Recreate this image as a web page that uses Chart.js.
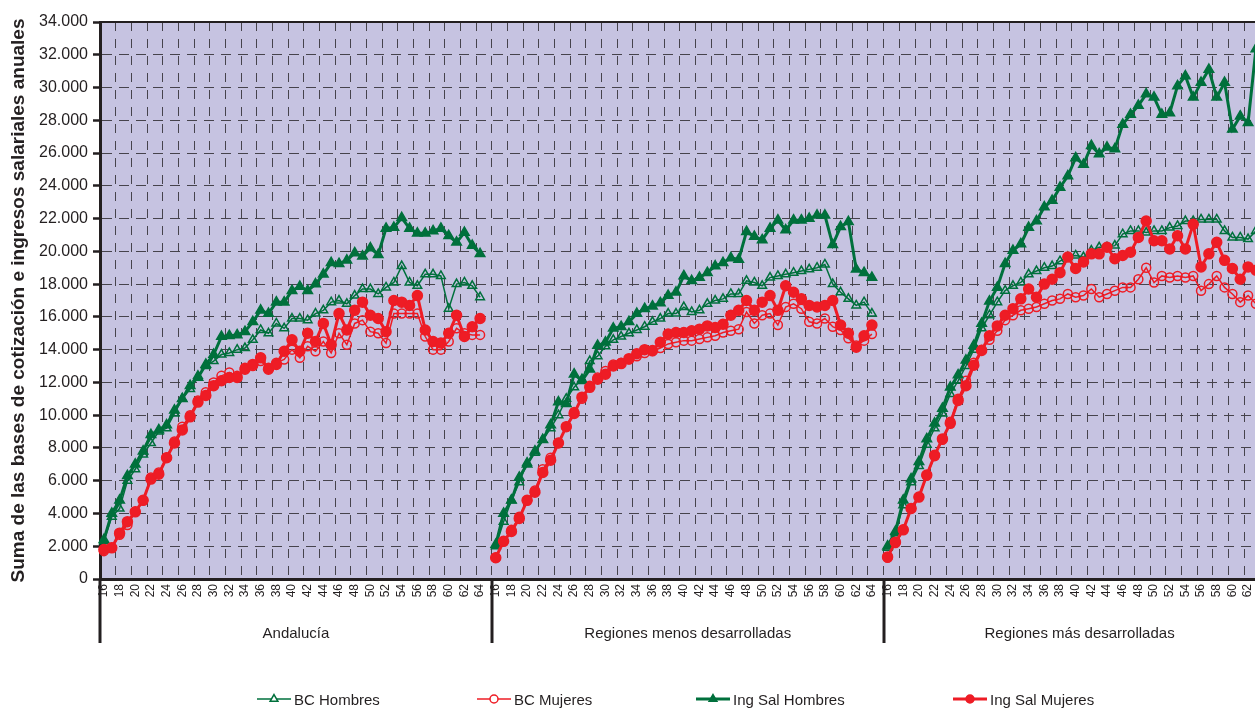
<!DOCTYPE html>
<html lang="es">
<head>
<meta charset="utf-8">
<title>Bases de cotización e ingresos salariales por edad</title>
<script src="https://cdn.jsdelivr.net/npm/chart.js@4.4.1/dist/chart.umd.min.js"></script>
<style>
  html, body { margin: 0; padding: 0; background: #fff; overflow: hidden; }
  #wrap { position: relative; width: 1255px; height: 711px; overflow: hidden; }
  #chart { position: absolute; left: 0; top: 0; }
  #legend { position: absolute; left: 0; top: 689px; width: 1255px; height: 24px; }
  .item { position: absolute; top: 0; display: flex; align-items: center; white-space: nowrap;
          font-family: "Liberation Sans", Arial, sans-serif;
          font-size: 15px; color: #231f20; }
  .item canvas { margin-right: 3px; }
</style>
</head>
<body>
<div id="wrap">
  <canvas id="chart" width="1291" height="711"></canvas>
  <div id="legend"></div>
</div>
<script>
// Ages on the axis (65 is the empty slot that separates the groups)
const AGES = ['16','17','18','19','20','21','22','23','24','25','26','27','28','29','30',
              '31','32','33','34','35','36','37','38','39','40','41','42','43','44','45',
              '46','47','48','49','50','51','52','53','54','55','56','57','58','59','60',
              '61','62','63','64','65'];
const GROUPS = ['Andalucía', 'Regiones menos desarrolladas', 'Regiones más desarrolladas'];
const Y_MAX = 34000;
const Y_STEP = 2000;

// values for ages 16..64, one array per group and series
const BCH_AND = [2300, 3800, 4300, 6000, 6700, 7600, 8300, 9000, 9200, 10100, 11000, 11600, 12400, 13000, 13300,
  13700, 13800, 14000, 14100, 14600, 15200, 15000, 15600, 15300, 15900, 15900, 15800, 16200, 16400, 16900,
  17000, 16800, 17300, 17700, 17700, 17400, 17800, 18100, 19100, 18100, 17900, 18600, 18600, 18500, 16500,
  18000, 18100, 17900, 17200];
const BCM_AND = [1700, 1900, 2700, 3300, 4100, 4800, 6200, 6500, 7400, 8400, 9300, 10000, 10900, 11400, 12000,
  12400, 12600, 12400, 12900, 13000, 13300, 12900, 13200, 13400, 14000, 13500, 14200, 13900, 14500, 13800,
  15000, 14300, 15600, 15800, 15100, 15000, 14400, 16200, 16200, 16200, 16200, 14800, 14000, 14000, 14500,
  15300, 15000, 14900, 14900];
const ISH_AND = [2400, 4000, 4800, 6300, 7000, 7800, 8800, 9100, 9400, 10300, 11000, 11800, 12300, 13100, 13700,
  14800, 14850, 14900, 15100, 15700, 16400, 16200, 16900, 16900, 17600, 17850, 17600, 18000, 18600, 19300,
  19250, 19450, 19900, 19700, 20200, 19800, 21400, 21450, 22050, 21400, 21100, 21100, 21250, 21400, 20950,
  20550, 21150, 20350, 19850];
const ISM_AND = [1800, 1900, 2800, 3500, 4100, 4800, 6100, 6400, 7400, 8300, 9100, 9900, 10800, 11200, 11800,
  12100, 12300, 12300, 12800, 13100, 13500, 12800, 13100, 13900, 14600, 13900, 15000, 14500, 15600, 14300,
  16200, 15200, 16400, 16900, 16100, 15900, 15100, 17000, 16900, 16700, 17300, 15200, 14500, 14400, 15000,
  16100, 14800, 15400, 15900];

const BCH_MEN = [2000, 3500, 4800, 5900, 7100, 7700, 8500, 9200, 10000, 11000, 11700, 12200, 13300, 13600, 14200,
  14600, 14800, 15000, 15200, 15400, 15700, 15900, 16200, 16200, 16600, 16300, 16400, 16800, 17000, 17100,
  17400, 17400, 18200, 18100, 17900, 18400, 18500, 18600, 18700, 18800, 18900, 19000, 19200, 18000, 17500,
  17100, 16700, 16900, 16200];
const BCM_MEN = [1300, 2300, 3000, 3800, 4800, 5400, 6700, 7400, 8300, 9300, 10200, 11000, 11800, 12300, 12700,
  13100, 13200, 13400, 13600, 13800, 13900, 14100, 14350, 14450, 14550, 14550, 14650, 14750, 14850, 15050,
  15150, 15250, 16300, 15600, 16100, 16200, 15500, 16600, 16800, 16500, 15700, 15600, 15900, 15400, 15200,
  14700, 14250, 14550, 14950];
const ISH_MEN = [2100, 4000, 4800, 6200, 7000, 7800, 8500, 9400, 10800, 10700, 12500, 12100, 12800, 14250, 14450,
  15300, 15400, 15700, 16200, 16500, 16650, 16850, 17300, 17500, 18500, 18200, 18400, 18700, 19100, 19300,
  19600, 19500, 21200, 20900, 20700, 21400, 21900, 21300, 21900, 21900, 22000, 22200, 22200, 20400, 21500,
  21800, 18900, 18700, 18400];
const ISM_MEN = [1300, 2300, 2900, 3700, 4800, 5300, 6500, 7250, 8300, 9300, 10100, 11100, 11700, 12200, 12500,
  13000, 13150, 13450, 13750, 14000, 13950, 14450, 14950, 15050, 15050, 15150, 15250, 15450, 15350, 15550,
  16100, 16400, 17000, 16400, 16900, 17300, 16400, 17900, 17500, 17100, 16700, 16600, 16700, 17000, 15500,
  15000, 14150, 14850, 15500];

const BCH_MAS = [1900, 2800, 4500, 5900, 6900, 8200, 9200, 10100, 11300, 12100, 13000, 14000, 15300, 16100, 16900,
  17600, 17900, 18100, 18600, 18800, 19000, 19100, 19400, 19650, 19750, 19650, 20050, 20250, 20250, 20350,
  21050, 21250, 21250, 21150, 21250, 21250, 21450, 21550, 21850, 21850, 21950, 21950, 21950, 21250, 20850,
  20850, 20750, 21250, 21300];
const BCM_MAS = [1300, 2200, 3000, 4300, 5000, 6300, 7500, 8500, 9600, 11000, 12100, 13200, 14000, 14600, 15150,
  15800, 16100, 16400, 16500, 16600, 16800, 17000, 17100, 17400, 17200, 17300, 17700, 17200, 17400, 17600,
  17800, 17800, 18300, 19000, 18100, 18500, 18400, 18500, 18400, 18500, 17600, 18000, 18500, 17800, 17400,
  16900, 17300, 16800, 16900];
const ISH_MAS = [2000, 2900, 4800, 6100, 7150, 8550, 9500, 10400, 11700, 12450, 13350, 14250, 15600, 16950, 17800,
  19250, 20050, 20450, 21450, 21850, 22700, 23100, 23900, 24600, 25700, 25300, 26450, 25950, 26350, 26250,
  27750, 28350, 28900, 29600, 29400, 28350, 28450, 30100, 30700, 29400, 30300, 31100, 29400, 30300, 27450,
  28250, 27850, 32350, 31500];
const ISM_MAS = [1350, 2250, 3000, 4300, 5000, 6350, 7550, 8550, 9500, 10900, 11800, 13050, 13950, 14850, 15450,
  16100, 16500, 17100, 17700, 17200, 18000, 18300, 18700, 19650, 18950, 19350, 19850, 19850, 20250, 19550,
  19750, 19950, 20850, 21850, 20650, 20650, 20150, 20950, 20150, 21650, 19050, 19850, 20550, 19450, 18950,
  18300, 19050, 18850, 19000];

const FONT = '"Liberation Sans", Arial, sans-serif';
const GREEN = '#00703c';
const RED = '#ee1c25';
const INK = '#231f20';
const PLOT_BG = '#c6c3e1';
const GRID = '#46434c';

// one slot per age and group, with a gap (null) at age 65
const labels = [];
GROUPS.forEach(() => AGES.forEach(a => labels.push(a)));
function joinGroups(a, b, c) {
  return [...a, null, ...b, null, ...c, null];
}
function fmt(v) {
  return String(v).replace(/\B(?=(\d{3})+(?!\d))/g, '.');
}

const series = [
  { label: 'BC Hombres', data: joinGroups(BCH_AND, BCH_MEN, BCH_MAS), color: GREEN, style: 'triangle', filled: false, order: 4 },
  { label: 'BC Mujeres', data: joinGroups(BCM_AND, BCM_MEN, BCM_MAS), color: RED, style: 'circle', filled: false, order: 3 },
  { label: 'Ing Sal Hombres', data: joinGroups(ISH_AND, ISH_MEN, ISH_MAS), color: GREEN, style: 'triangle', filled: true, order: 2 },
  { label: 'Ing Sal Mujeres', data: joinGroups(ISM_AND, ISM_MEN, ISM_MAS), color: RED, style: 'circle', filled: true, order: 1 }
];

const datasets = series.map(s => ({
  label: s.label,
  data: s.data,
  order: s.order,
  borderColor: s.color,
  borderWidth: s.filled ? 3 : 1.5,
  pointStyle: s.style,
  pointRadius: s.filled ? (s.style === 'circle' ? 5 : 5.5) : (s.style === 'circle' ? 4.5 : 5),
  pointBorderWidth: 1.5,
  pointBorderColor: s.color,
  pointBackgroundColor: s.filled ? s.color : 'rgba(0,0,0,0)',
  tension: 0,
  spanGaps: false
}));

// lavender plot area, top frame line and the group separators under the axis
const plotFrame = {
  id: 'plotFrame',
  beforeDraw(chart) {
    const a = chart.chartArea;
    const ctx = chart.ctx;
    ctx.save();
    ctx.fillStyle = PLOT_BG;
    ctx.fillRect(a.left, a.top, a.right - a.left, a.bottom - a.top);
    ctx.restore();
  },
  afterDraw(chart) {
    const a = chart.chartArea;
    const ctx = chart.ctx;
    const xs = chart.scales.x;
    const x2 = chart.scales.x2;
    const slot = xs.width / labels.length;
    ctx.save();
    ctx.strokeStyle = INK;
    ctx.lineWidth = 2;
    ctx.beginPath();
    ctx.moveTo(a.left, a.top);
    ctx.lineTo(a.right, a.top);
    ctx.stroke();
    ctx.lineWidth = 3;
    for (let g = 0; g <= GROUPS.length; g++) {
      const x = Math.round(xs.left + g * AGES.length * slot);
      ctx.beginPath();
      ctx.moveTo(x, a.bottom);
      ctx.lineTo(x, x2.top + 24);
      ctx.stroke();
    }
    ctx.restore();
  }
};

new Chart(document.getElementById('chart'), {
  type: 'line',
  data: { labels: labels, datasets: datasets },
  plugins: [plotFrame],
  options: {
    responsive: false,
    animation: false,
    layout: { padding: { top: 22, right: 0, bottom: 62, left: 0 } },
    plugins: {
      legend: { display: false },
      tooltip: { enabled: false }
    },
    scales: {
      x: {
        type: 'category',
        weight: 1,
        offset: true,
        grid: {
          offset: true,
          drawTicks: false,
          lineWidth: 1,
          color: ctx => (ctx.index > 0 && ctx.index % 2 === 0) ? GRID : 'rgba(0,0,0,0)'
        },
        border: { display: true, color: INK, width: 3, dash: [9, 8] },
        ticks: {
          autoSkip: false,
          maxRotation: 90,
          minRotation: 90,
          padding: 5,
          color: INK,
          font: { family: FONT, size: 12 },
          callback: function (v) {
            const a = Number(this.getLabelForValue(v));
            return (a % 2 === 0 && a <= 64) ? String(a) : '';
          }
        },
        afterFit: s => { s.height = 40; }
      },
      x2: {
        type: 'category',
        labels: GROUPS,
        position: 'bottom',
        weight: 2,
        offset: true,
        grid: { display: false, drawTicks: false },
        border: { display: false },
        ticks: {
          autoSkip: false,
          maxRotation: 0,
          padding: 6,
          color: INK,
          font: { family: FONT, size: 15 }
        },
        afterFit: s => { s.height = 30; }
      },
      y: {
        min: 0,
        max: Y_MAX,
        grid: {
          color: GRID,
          lineWidth: 1,
          drawTicks: true,
          tickLength: 7,
          tickWidth: 2.5,
          tickColor: INK
        },
        border: { display: true, color: INK, width: 3, dash: [10, 7] },
        ticks: {
          stepSize: Y_STEP,
          padding: 5,
          color: INK,
          font: { family: FONT, size: 16 },
          callback: v => fmt(v)
        },
        title: {
          display: true,
          text: 'Suma de las bases de cotización e ingresos salariales anuales',
          color: INK,
          font: { family: FONT, size: 19, weight: 'bold' },
          padding: { top: 7, bottom: 0 }
        },
        afterFit: s => { s.width = 100; }
      }
    }
  }
});

// legend under the chart, symbols drawn with the library's point helper
const LEGEND_LEFT = [257, 477, 696, 953];
const legendBox = document.getElementById('legend');
series.forEach((s, i) => {
  const item = document.createElement('div');
  item.className = 'item';
  item.style.left = LEGEND_LEFT[i] + 'px';
  const icon = document.createElement('canvas');
  icon.width = 34;
  icon.height = 20;
  const c = icon.getContext('2d');
  c.strokeStyle = s.color;
  c.lineWidth = s.filled ? 3 : 1.5;
  c.beginPath();
  c.moveTo(0, 10);
  c.lineTo(34, 10);
  c.stroke();
  c.fillStyle = s.filled ? s.color : '#ffffff';
  c.lineWidth = 1.5;
  Chart.helpers.drawPoint(c, { pointStyle: s.style, radius: s.style === 'circle' ? 4 : 4.5, rotation: 0, borderWidth: 1.5 }, 17, 10);
  const text = document.createElement('span');
  text.textContent = s.label;
  item.appendChild(icon);
  item.appendChild(text);
  legendBox.appendChild(item);
});
</script>
</body>
</html>
